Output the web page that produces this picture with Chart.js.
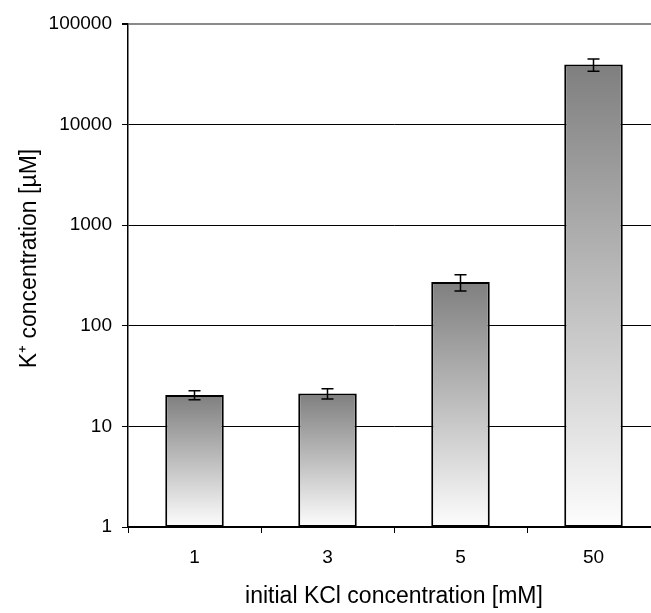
<!DOCTYPE html>
<html>
<head>
<meta charset="utf-8">
<script src="https://cdn.jsdelivr.net/npm/chart.js@4"></script>
<style>
  html, body { margin: 0; padding: 0; background: #fff; overflow: hidden; }
  #wrap { width: 670px; height: 613px; }
</style>
</head>
<body>
<div id="wrap"><canvas id="kChart" width="670" height="613"></canvas></div>
<script>
// --- dados ---
const categories = ['1', '3', '5', '50'];
const kMeans = [20.5, 21.2, 272, 39500];
const kErrors = [2.1, 2.5, 50, 5500];
const yTickValues = [1, 10, 100, 1000, 10000, 100000];
const yTitle = 'K\u207A concentration [\u00B5M]';

const FONT = '"Liberation Sans", Arial, sans-serif';

// gradiente de cada barra: cinza escuro no topo, quase branco na base
function barGradient(ctx) {
    const chart = ctx.chart;
    const area = chart.chartArea;
    if (!area || ctx.dataIndex === undefined) return '#888';
    const yTop = chart.scales.y.getPixelForValue(kMeans[ctx.dataIndex]);
    const g = chart.ctx.createLinearGradient(0, yTop, 0, area.bottom);
    g.addColorStop(0, '#7f7f7f');
    g.addColorStop(1, '#fdfdfd');
    return g;
}

// barras de erro desenhadas por cima das colunas
const errorBars = {
    id: 'errorBars',
    afterDatasetsDraw(chart) {
        const meta = chart.getDatasetMeta(0);
        const y = chart.scales.y;
        const c = chart.ctx;
        c.save();
        c.strokeStyle = '#000';
        c.lineWidth = 1.5;
        meta.data.forEach((bar, i) => {
            const yHi = y.getPixelForValue(kMeans[i] + kErrors[i]);
            const yLo = y.getPixelForValue(kMeans[i] - kErrors[i]);
            const x = bar.x;
            c.beginPath();
            c.moveTo(x, yHi); c.lineTo(x, yLo);
            c.moveTo(x - 6, yHi); c.lineTo(x + 6, yHi);
            c.moveTo(x - 6, yLo); c.lineTo(x + 6, yLo);
            c.stroke();
        });
        c.restore();
    }
};

// título do eixo Y (um pouco acima do centro, como no original)
const yAxisTitle = {
    id: 'yAxisTitle',
    afterDraw(chart) {
        const c = chart.ctx;
        const area = chart.chartArea;
        c.save();
        c.translate(30, (area.top + area.bottom) / 2 - 17);
        c.rotate(-Math.PI / 2);
        c.font = '23px ' + FONT;
        c.fillStyle = '#000';
        c.textAlign = 'center';
        c.textBaseline = 'middle';
        c.fillText(yTitle, 0, 0);
        c.restore();
    }
};

new Chart(document.getElementById('kChart'), {
    type: 'bar',
    data: {
        labels: categories,
        datasets: [{
            data: kMeans,
            backgroundColor: barGradient,
            borderColor: '#000',
            borderWidth: 2,
            borderSkipped: false,
            categoryPercentage: 1,
            barPercentage: 0.44
        }]
    },
    options: {
        responsive: false,
        animation: false,
        layout: { padding: { top: 24, right: 10, bottom: 0, left: 0 } },
        plugins: {
            legend: { display: false },
            tooltip: { enabled: false }
        },
        scales: {
            x: {
                offset: true,
                grid: {
                    offset: true,
                    drawOnChartArea: false,
                    color: '#000',
                    tickLength: 6,
                    tickWidth: 1
                },
                border: { color: '#000', width: 1.5 },
                ticks: { color: '#000', padding: 13, font: { family: FONT, size: 19 } },
                title: {
                    display: true,
                    text: 'initial KCl concentration [mM]',
                    color: '#000',
                    font: { family: FONT, size: 23 },
                    padding: { top: 0, bottom: 3 }
                },
                afterFit: s => { s.height = 86; }
            },
            y: {
                type: 'logarithmic',
                min: 1,
                max: 100000,
                afterBuildTicks: s => { s.ticks = yTickValues.map(v => ({ value: v })); },
                grid: {
                    color: ctx => (ctx.tick && ctx.tick.value === 100000) ? '#8a8a8a' : '#000',
                    lineWidth: ctx => (ctx.tick && ctx.tick.value === 100000) ? 2 : 1,
                    tickColor: '#000',
                    tickLength: 6
                },
                border: { color: '#000', width: 1.5 },
                ticks: {
                    color: '#000',
                    padding: 10,
                    font: { family: FONT, size: 19 },
                    callback: v => String(v)
                },
                afterFit: s => { s.width = 128; }
            }
        }
    },
    plugins: [errorBars, yAxisTitle]
});
</script>
</body>
</html>
